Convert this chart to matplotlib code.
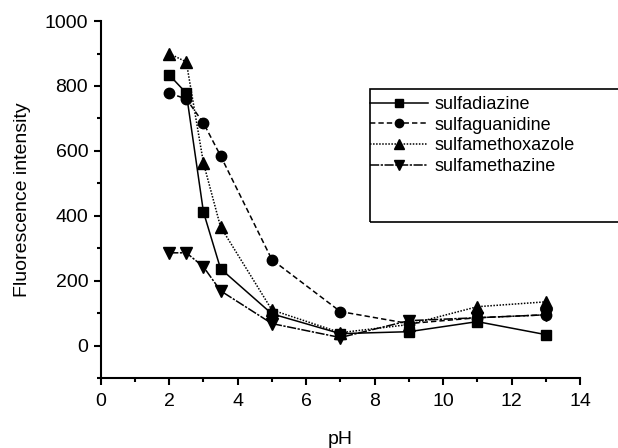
import matplotlib.pyplot as plt
from matplotlib.ticker import MultipleLocator
from matplotlib.patches import Rectangle

plt.rcParams['font.family'] = ['Liberation Sans', 'DejaVu Sans']

ph = [2, 2.5, 3, 3.5, 5, 7, 9, 11, 13]
sulfadiazine = [834, 778, 412, 237, 98, 37, 43, 74, 34]
sulfaguanidine = [778, 760, 686, 585, 265, 105, 68, 86, 95]
sulfamethoxazole = [900, 874, 563, 366, 110, 40, 65, 120, 135]
sulfamethazine = [286, 286, 243, 169, 68, 25, 77, 86, 95]

fig = plt.figure(figsize=(6.18, 4.48), dpi=100)
ax = fig.add_axes([0.163, 0.156, 0.7755, 0.797])

ax.plot(ph, sulfadiazine, color='black', ls='-', lw=1.1, marker='s', ms=7, label='sulfadiazine')
ax.plot(ph, sulfaguanidine, color='black', ls=(0, (3.5, 2)), lw=1.1, marker='o', ms=7.5, label='sulfaguanidine')
ax.plot(ph, sulfamethoxazole, color='black', ls=(0, (1, 1)), lw=1.1, marker='^', ms=8.5, label='sulfamethoxazole')
ax.plot(ph, sulfamethazine, color='black', ls=(0, (6, 1, 1.5, 1)), lw=1.1, marker='v', ms=8.5, label='sulfamethazine')

ax.set_xlim(0, 14)
ax.set_ylim(-100, 1000)
ax.xaxis.set_major_locator(MultipleLocator(2))
ax.xaxis.set_minor_locator(MultipleLocator(1))
ax.yaxis.set_major_locator(MultipleLocator(200))
ax.yaxis.set_minor_locator(MultipleLocator(100))
ax.spines['top'].set_visible(False)
ax.spines['right'].set_visible(False)
ax.spines['left'].set_linewidth(1.5)
ax.spines['bottom'].set_linewidth(1.5)
ax.tick_params(which='major', direction='out', length=5, width=1.5, labelsize=14)
ax.tick_params(axis='x', which='major', pad=6)
ax.tick_params(axis='y', which='major', pad=4)
ax.tick_params(which='minor', direction='out', length=3, width=1.5)

ax.set_xlabel('pH', fontsize=14, labelpad=15)
ax.set_ylabel('Fluorescence intensity', fontsize=14, labelpad=10)

leg = ax.legend(loc='upper left', bbox_to_anchor=(370 / 618, 1 - 96 / 448),
                bbox_transform=fig.transFigure, fontsize=13, frameon=False,
                handlelength=3.2, markerscale=0.8, borderpad=0, labelspacing=0.2,
                handletextpad=0.35, borderaxespad=0)

# legend box runs past the right edge of the figure, like the original
fig.patches.append(Rectangle((370 / 618, 1 - 222 / 448), 0.5, (222 - 89) / 448,
                             transform=fig.transFigure, fill=False,
                             edgecolor='black', lw=1.2, clip_on=False))

fig.savefig('out.png', dpi=100)
